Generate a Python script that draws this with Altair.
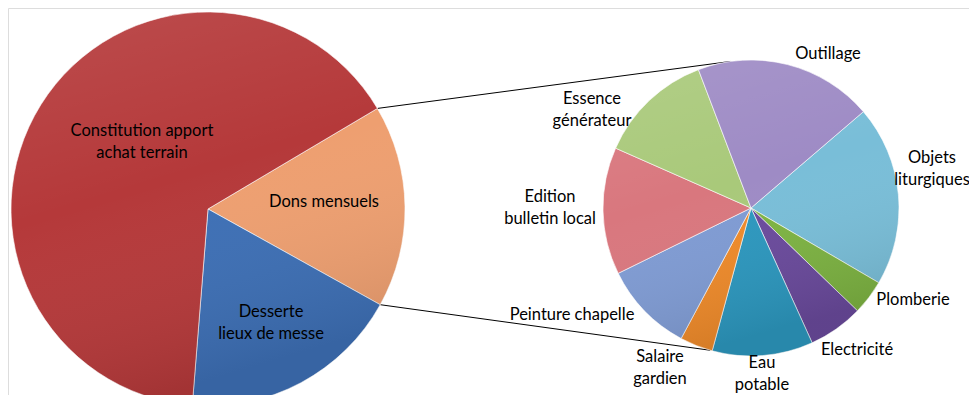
import math
import altair as alt
import pandas as pd

# ---- data ----
main_labels = ["Dons mensuels", "Desserte lieux de messe", "Constitution apport achat terrain"]
main_values = [16.6, 18.2, 65.2]
main_colors = ["#EE9F70", "#3D6FB5", "#B5393A"]

sub_labels = ["Objets liturgiques", "Plomberie", "Electricité", "Eau potable", "Salaire gardien",
              "Peinture chapelle", "Edition bulletin local", "Essence générateur", "Outillage"]
sub_values = [19.7, 3.8, 6.0, 11.0, 3.6, 9.9, 13.9, 12.6, 19.5]
sub_colors = ["#79BED8", "#7DB342", "#6A4A9C", "#2C97BE", "#EE8A2A",
              "#7F9BD3", "#D9777E", "#A9C97A", "#9E8BC5"]

# ---- layout (pixels in chart coordinates) ----
W, H = 961, 387
main_cx, main_cy, main_r = 200, 201, 197
sub_cx, sub_cy, sub_r = 743, 200, 148
main_start = math.radians(59.3)
sub_start = math.radians(49.4)
FONT = "Lato"
FS = 16.5

main_df = pd.DataFrame({"label": main_labels, "value": main_values, "idx": range(len(main_labels))})
sub_df = pd.DataFrame({"label": sub_labels, "value": sub_values, "idx": range(len(sub_labels))})

main_pie = alt.Chart(main_df).mark_arc(stroke="#ffffff", strokeWidth=1, strokeOpacity=0.6).encode(
    theta=alt.Theta("value:Q", stack=True,
                    scale=alt.Scale(range=[main_start, main_start + 2 * math.pi])),
    color=alt.Color("label:N", scale=alt.Scale(domain=main_labels, range=main_colors), legend=None),
    order=alt.Order("idx:Q"),
    x=alt.value(main_cx), y=alt.value(main_cy),
    radius=alt.value(main_r),
)

sub_pie = alt.Chart(sub_df).mark_arc(stroke="#ffffff", strokeWidth=1, strokeOpacity=0.6).encode(
    theta=alt.Theta("value:Q", stack=True,
                    scale=alt.Scale(range=[sub_start, sub_start + 2 * math.pi])),
    fill=alt.Fill("label:N", scale=alt.Scale(domain=sub_labels, range=sub_colors), legend=None),
    order=alt.Order("idx:Q"),
    x=alt.value(sub_cx), y=alt.value(sub_cy),
    radius=alt.value(sub_r),
)

# soft shading overlay to mimic the glossy look
shade = alt.Gradient(
    gradient="linear", x1=0, y1=0, x2=0.3, y2=1,
    stops=[alt.GradientStop(color="rgba(255,255,255,0.10)", offset=0),
           alt.GradientStop(color="rgba(255,255,255,0.0)", offset=0.5),
           alt.GradientStop(color="rgba(0,0,0,0.10)", offset=1)],
)
one = pd.DataFrame({"k": [0]})
main_shade = alt.Chart(one).mark_arc(theta=0, theta2=2 * math.pi, fill=shade).encode(
    x=alt.value(main_cx), y=alt.value(main_cy), radius=alt.value(main_r))
sub_shade = alt.Chart(one).mark_arc(theta=0, theta2=2 * math.pi, fill=shade).encode(
    x=alt.value(sub_cx), y=alt.value(sub_cy), radius=alt.value(sub_r))

# connector lines: from the edges of the "Dons mensuels" slice to the secondary pie
a1 = main_start
a2 = main_start + 2 * math.pi * main_values[0] / sum(main_values)
b1 = math.radians(-8)
b2 = math.radians(196)
def pt(cx, cy, r, a):
    return cx + r * math.sin(a), cy - r * math.cos(a)
p1 = pt(main_cx, main_cy, main_r, a1)
q1 = pt(sub_cx, sub_cy, sub_r, b1)
p2 = pt(main_cx, main_cy, main_r, a2)
q2 = pt(sub_cx, sub_cy, sub_r, b2)
line1 = alt.Chart(one).mark_rule(color="#000000", strokeWidth=1).encode(
    x=alt.value(p1[0]), y=alt.value(p1[1]), x2=alt.value(q1[0]), y2=alt.value(q1[1]))
line2 = alt.Chart(one).mark_rule(color="#000000", strokeWidth=1).encode(
    x=alt.value(p2[0]), y=alt.value(p2[1]), x2=alt.value(q2[0]), y2=alt.value(q2[1]))

# labels (y = first line position)
label_lines = [
    ["Constitution apport", "achat terrain"],
    ["Dons mensuels"],
    ["Desserte", "lieux de messe"],
    ["Outillage"],
    ["Objets", "liturgiques"],
    ["Plomberie"],
    ["Electricité"],
    ["Eau", "potable"],
    ["Salaire", "gardien"],
    ["Peinture chapelle"],
    ["Edition", "bulletin local"],
    ["Essence", "générateur"],
]
label_x = [134, 316, 263, 820, 924, 905, 849, 754, 652, 564, 542, 584]
label_y = [123, 194, 304, 46, 150, 292, 342, 355, 349, 307, 189, 91]
lab_df = pd.DataFrame({"text": label_lines, "lx": label_x, "ly": label_y})

labels = alt.Chart(lab_df).mark_text(
    font=FONT, fontSize=FS, color="#000000", align="center", baseline="middle", lineHeight=21.5
).encode(
    text="text",
    x=alt.X("lx:Q", scale=alt.Scale(domain=[0, W], range=[0, W]), axis=None),
    y=alt.Y("ly:Q", scale=alt.Scale(domain=[0, H], range=[0, H]), axis=None),
)

chart = alt.layer(line1, line2, main_pie, main_shade, sub_pie, sub_shade, labels).resolve_scale(
    color="independent", fill="independent", theta="independent"
).properties(
    width=W, height=H, padding=0, autosize="none"
).configure_view(stroke="transparent", strokeWidth=0).configure_axis(
    grid=False, domain=False
).configure(background="#ffffff")

chart.save("out.html", embed_options={"renderer": "svg", "actions": False})
